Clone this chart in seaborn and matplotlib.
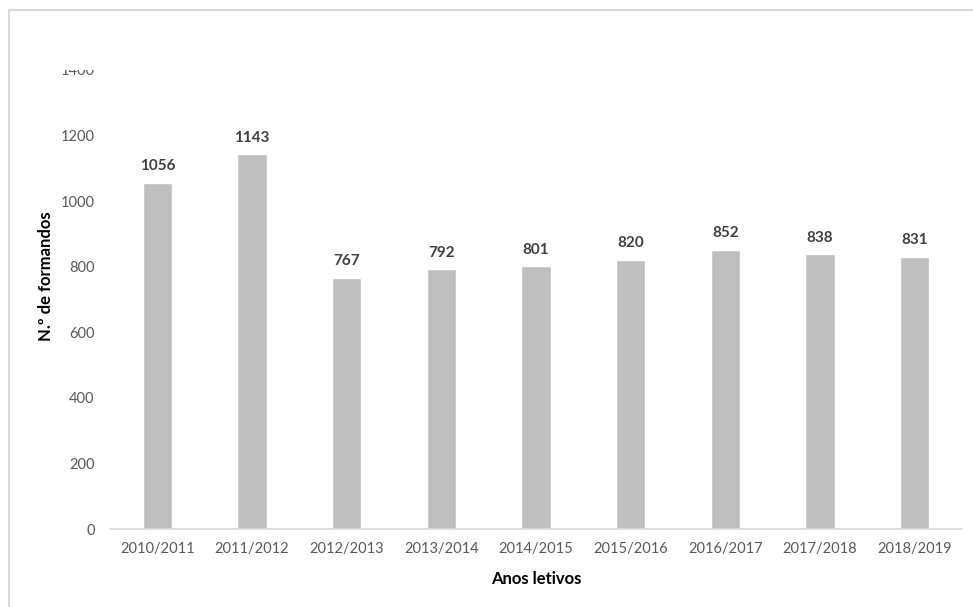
import matplotlib
matplotlib.use("Agg")
import matplotlib.pyplot as plt
import matplotlib.patches as mpatches
import seaborn as sns
import pandas as pd

anos = ["2010/2011", "2011/2012", "2012/2013", "2013/2014", "2014/2015",
        "2015/2016", "2016/2017", "2017/2018", "2018/2019"]
formandos = [1056, 1143, 767, 792, 801, 820, 852, 838, 831]
y_ticks = [0, 200, 400, 600, 800, 1000, 1200, 1400]

sns.set_theme(style="white")
plt.rcParams["font.family"] = ["Lato", "DejaVu Sans"]

df = pd.DataFrame({"ano": anos, "n": formandos})

fig = plt.figure(figsize=(9.73, 6.07), dpi=100)
ax = fig.add_axes([0.1131, 0.1285, 0.8756, 0.7562])

sns.barplot(data=df, x="ano", y="n", color="#bfbfbf", saturation=1,
            width=0.31, ax=ax)

ax.set_xlim(-0.5, len(anos) - 0.5)
ax.set_ylim(0, 1400)
ax.set_yticks(y_ticks)
ax.tick_params(axis="both", length=0, labelsize=10.5, colors="#595959")
ax.tick_params(axis="x", pad=9)
ax.tick_params(axis="y", pad=11)

for s in ["top", "right", "left"]:
    ax.spines[s].set_visible(False)
ax.spines["bottom"].set_color("#d9d9d9")
ax.spines["bottom"].set_linewidth(1.2)

for container in ax.containers:
    ax.bar_label(container, labels=[str(v) for v in formandos], padding=7,
                 fontsize=11, fontweight="bold", color="#404040")

ax.set_xlabel("Anos letivos", fontsize=12, fontweight="bold", color="black")
ax.set_ylabel("N.º de formandos", fontsize=12, fontweight="bold", color="black")
ax.xaxis.set_label_coords(0.5, -0.092)
ax.yaxis.set_label_coords(-0.066, 0.551)

# chart frame
fig.add_artist(plt.Line2D([8.5 / 973, 8.5 / 973], [0, 1 - 9.5 / 607],
                          transform=fig.transFigure, color="#d9d9d9", lw=1.5))
fig.add_artist(plt.Line2D([8.5 / 973, 1], [1 - 9.5 / 607, 1 - 9.5 / 607],
                          transform=fig.transFigure, color="#d9d9d9", lw=1.5))

# upper edge of the plot area hides the top of the highest tick label
fig.add_artist(mpatches.Rectangle((30 / 973, 1 - 70 / 607), 80 / 973, 40 / 607,
                                  transform=fig.transFigure, facecolor="white",
                                  edgecolor="none", zorder=10))

fig.savefig("out.png", dpi=100)
